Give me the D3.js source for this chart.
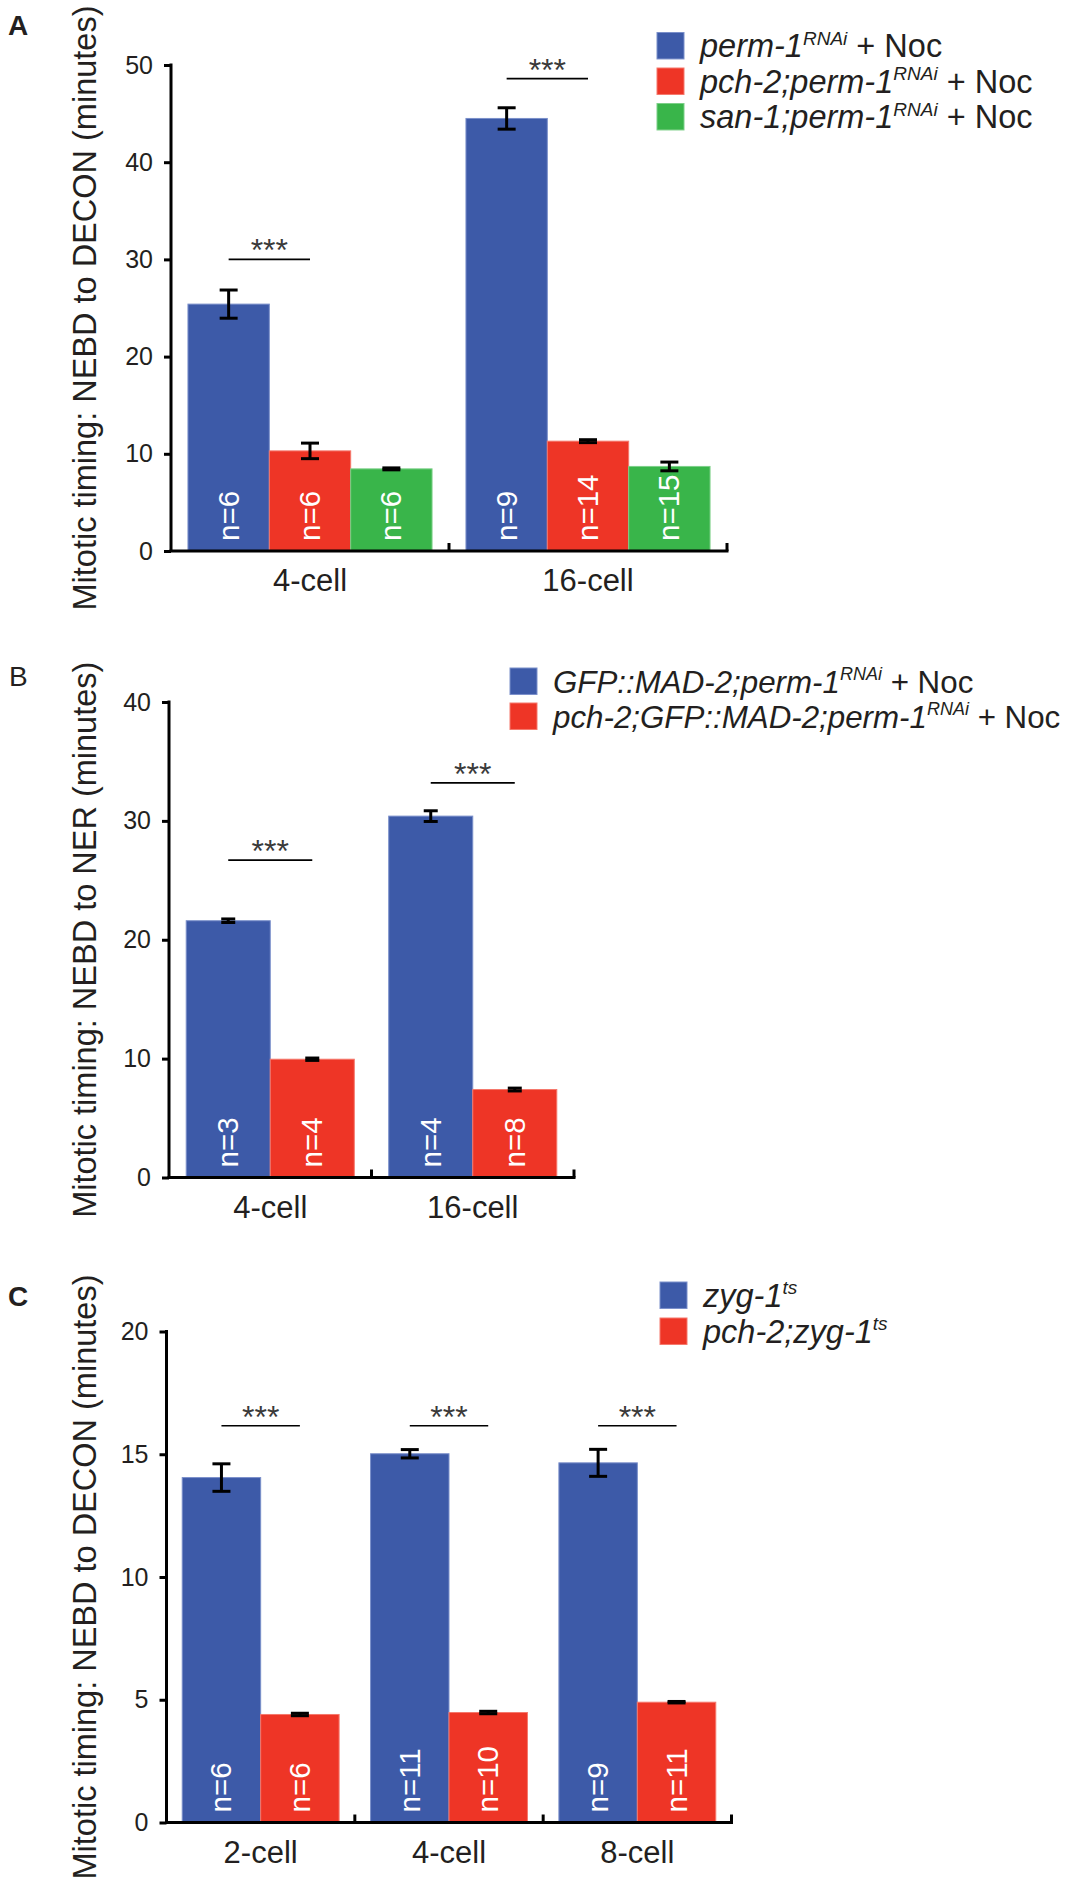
<!DOCTYPE html>
<html>
<head>
<meta charset="utf-8">
<script src="https://d3js.org/d3.v7.min.js"></script>
<style>
  body { margin: 0; background: #fff; }
  text { font-family: "Liberation Sans", Arial, sans-serif; fill: #231f20; }
</style>
</head>
<body>
<script>
// ---- data ----
// panel A
const catsA = ["4-cell", "16-cell"];
const seriesA = ["perm", "pch2perm", "san1perm"];
const meansA = [[25.4, 10.3, 8.45], [44.5, 11.3, 8.7]];
const errsA = [[1.45, 0.8, 0.1], [1.1, 0.15, 0.45]];
const nA = [["n=6", "n=6", "n=6"], ["n=9", "n=14", "n=15"]];
const ticksA = [0, 10, 20, 30, 40, 50];
const sigA = [30, 48.6];

// panel B
const catsB = ["4-cell", "16-cell"];
const seriesB = ["gfpMad2", "pch2gfpMad2"];
const meansB = [[21.6, 9.95], [30.4, 7.4]];
const errsB = [[0.15, 0.1], [0.45, 0.12]];
const nB = [["n=3", "n=4"], ["n=4", "n=8"]];
const ticksB = [0, 10, 20, 30, 40];
const sigB = [26.7, 33.2];

// panel C
const catsC = ["2-cell", "4-cell", "8-cell"];
const seriesC = ["zyg1", "pch2zyg1"];
const meansC = [[14.05, 4.4], [15.02, 4.48], [14.65, 4.9]];
const errsC = [[0.56, 0.05], [0.17, 0.05], [0.55, 0.03]];
const nC = [["n=6", "n=6"], ["n=11", "n=10"], ["n=9", "n=11"]];
const ticksC = [0, 5, 10, 15, 20];
const sigC = [16.16, 16.16, 16.16];

// legend labels: [text, italic, superscript]
const legendA = [
  [["perm-1", 1, 0], ["RNAi", 1, 1], [" + Noc", 0, 0]],
  [["pch-2;perm-1", 1, 0], ["RNAi", 1, 1], [" + Noc", 0, 0]],
  [["san-1;perm-1", 1, 0], ["RNAi", 1, 1], [" + Noc", 0, 0]]
];
const legendB = [
  [["GFP::MAD-2;perm-1", 1, 0], ["RNAi", 1, 1], [" + Noc", 0, 0]],
  [["pch-2;GFP::MAD-2;perm-1", 1, 0], ["RNAi", 1, 1], [" + Noc", 0, 0]]
];
const legendC = [
  [["zyg-1", 1, 0], ["ts", 1, 1]],
  [["pch-2;zyg-1", 1, 0], ["ts", 1, 1]]
];

const colors = ["#3d5aa8", "#ee3526", "#39b54a"];
const edgeColors = ["#7a8fca", "#f5786c", "#7ccf88"];
const textColor = "#231f20";

const svg = d3.select("body").append("svg")
  .attr("width", 1075)
  .attr("height", 1881);

drawPanel({
  letter: "A", bold: true, lx: 8, ly: 35,
  cats: catsA, series: seriesA, means: meansA, errs: errsA, ns: nA, ticks: ticksA, sig: sigA,
  x0: 171, x1: 727, y0: 551, y1: 65, ymax: 50, frac: 0.878, cap: 18,
  ylabel: "Mitotic timing: NEBD to DECON (minutes)",
  legend: legendA, legX: 657, legY: 32.5, legStep: 35.5, legSize: 27, legFont: 32.5, supFont: 19
});

drawPanel({
  letter: "B", bold: false, lx: 9, ly: 686,
  cats: catsB, series: seriesB, means: meansB, errs: errsB, ns: nB, ticks: ticksB, sig: sigB,
  x0: 169, x1: 574, y0: 1177.5, y1: 702, ymax: 40, frac: 0.83, cap: 14,
  ylabel: "Mitotic timing: NEBD to NER (minutes)",
  legend: legendB, legX: 510, legY: 668, legStep: 35, legSize: 27, legFont: 31.3, supFont: 18
});

drawPanel({
  letter: "C", bold: true, lx: 8, ly: 1306,
  cats: catsC, series: seriesC, means: meansC, errs: errsC, ns: nC, ticks: ticksC, sig: sigC,
  x0: 166.5, x1: 731.5, y0: 1822.5, y1: 1331.5, ymax: 20, frac: 0.833, cap: 18,
  ylabel: "Mitotic timing: NEBD to DECON (minutes)",
  legend: legendC, legX: 660, legY: 1282, legStep: 36, legSize: 27, legFont: 32.5, supFont: 19
});

function drawPanel(p) {
  const g = svg.append("g");

  const x = d3.scaleBand().domain(p.cats).range([p.x0, p.x1]);
  const groupW = x.bandwidth() * p.frac;
  const xs = d3.scaleBand().domain(p.series).range([0, groupW]);
  const y = d3.scaleLinear().domain([0, p.ymax]).range([p.y0, p.y1]);
  const barX = (ci, si) => x(p.cats[ci]) + (x.bandwidth() - groupW) / 2 + xs(p.series[si]);

  // panel letter
  g.append("text").text(p.letter)
    .attr("x", p.lx).attr("y", p.ly)
    .attr("font-size", 28)
    .attr("font-weight", p.bold ? "bold" : "normal");

  // bars
  p.cats.forEach((c, ci) => {
    p.series.forEach((s, si) => {
      const v = p.means[ci][si];
      g.append("rect")
        .attr("x", barX(ci, si)).attr("y", y(v))
        .attr("width", xs.bandwidth()).attr("height", y(0) - y(v))
        .attr("fill", colors[si])
        .attr("stroke", edgeColors[si]).attr("stroke-width", 1);
    });
  });

  // n labels
  p.cats.forEach((c, ci) => {
    p.series.forEach((s, si) => {
      const cx = barX(ci, si) + xs.bandwidth() / 2;
      g.append("text").text(p.ns[ci][si])
        .attr("transform", "translate(" + (cx + 10) + "," + (y(0) - 10) + ") rotate(-90)")
        .attr("font-size", 29.5)
        .style("fill", "#fff");
    });
  });

  // error bars
  p.cats.forEach((c, ci) => {
    p.series.forEach((s, si) => {
      const cx = barX(ci, si) + xs.bandwidth() / 2;
      const v = p.means[ci][si], e = p.errs[ci][si];
      const eb = g.append("g").attr("stroke", "#000").attr("stroke-width", 3);
      eb.append("line").attr("x1", cx).attr("x2", cx).attr("y1", y(v + e)).attr("y2", y(v - e));
      eb.append("line").attr("x1", cx - p.cap / 2).attr("x2", cx + p.cap / 2).attr("y1", y(v + e)).attr("y2", y(v + e));
      eb.append("line").attr("x1", cx - p.cap / 2).attr("x2", cx + p.cap / 2).attr("y1", y(v - e)).attr("y2", y(v - e));
    });
  });

  // significance lines (blue vs red)
  p.sig.forEach((v, ci) => {
    const xa = barX(ci, 0) + xs.bandwidth() / 2;
    const xb = barX(ci, 1) + xs.bandwidth() / 2;
    g.append("line").attr("x1", xa).attr("x2", xb).attr("y1", y(v)).attr("y2", y(v))
      .attr("stroke", "#000").attr("stroke-width", 1.6);
    g.append("text").text("***")
      .attr("x", (xa + xb) / 2).attr("y", y(v) + 2)
      .attr("text-anchor", "middle").attr("font-size", 32)
      .style("fill", "#3a3a3a");
  });

  // y axis
  const yAxis = d3.axisLeft(y).tickValues(p.ticks).tickSize(7).tickSizeOuter(0).tickPadding(11);
  const ya = g.append("g").attr("transform", "translate(" + p.x0 + ",0)").call(yAxis);
  ya.select(".domain").remove();
  ya.selectAll(".tick line").attr("stroke", "#000").attr("stroke-width", 3);
  ya.selectAll(".tick text").attr("font-size", 25).attr("font-family", null).style("fill", textColor);
  g.append("line").attr("x1", p.x0).attr("x2", p.x0).attr("y1", y(p.ymax) - 1.5).attr("y2", y(0))
    .attr("stroke", "#000").attr("stroke-width", 3);

  // x axis
  g.append("line").attr("x1", p.x0 - 1.5).attr("x2", p.x1 + 1.5).attr("y1", y(0)).attr("y2", y(0))
    .attr("stroke", "#000").attr("stroke-width", 3);
  p.cats.forEach((c, ci) => {
    const bx = x(c) + x.step();
    g.append("line").attr("x1", bx).attr("x2", bx).attr("y1", y(0)).attr("y2", y(0) - 8)
      .attr("stroke", "#000").attr("stroke-width", 3);
    g.append("text").text(c)
      .attr("x", x(c) + x.bandwidth() / 2).attr("y", y(0) + 40)
      .attr("text-anchor", "middle").attr("font-size", 31);
  });

  // y label
  g.append("text").text(p.ylabel)
    .attr("transform", "translate(96," + ((p.y0 + p.y1) / 2) + ") rotate(-90)")
    .attr("text-anchor", "middle").attr("font-size", 32.5);

  // legend
  p.legend.forEach((parts, i) => {
    const ry = p.legY + i * p.legStep;
    g.append("rect").attr("x", p.legX).attr("y", ry)
      .attr("width", p.legSize).attr("height", p.legSize * 0.98)
      .attr("fill", colors[i]).attr("stroke", edgeColors[i]).attr("stroke-width", 1);
    const t = g.append("text")
      .attr("x", p.legX + p.legSize + 16).attr("y", ry + p.legSize / 2 + 11)
      .attr("font-size", p.legFont);
    let raised = false;
    parts.forEach(pt => {
      const ts = t.append("tspan").text(pt[0]);
      if (pt[1]) ts.attr("font-style", "italic");
      if (pt[2]) {
        ts.attr("font-size", p.supFont).attr("dy", -12.5);
        raised = true;
      } else if (raised) {
        ts.attr("dy", 12.5);
        raised = false;
      }
    });
  });
}
</script>
</body>
</html>
